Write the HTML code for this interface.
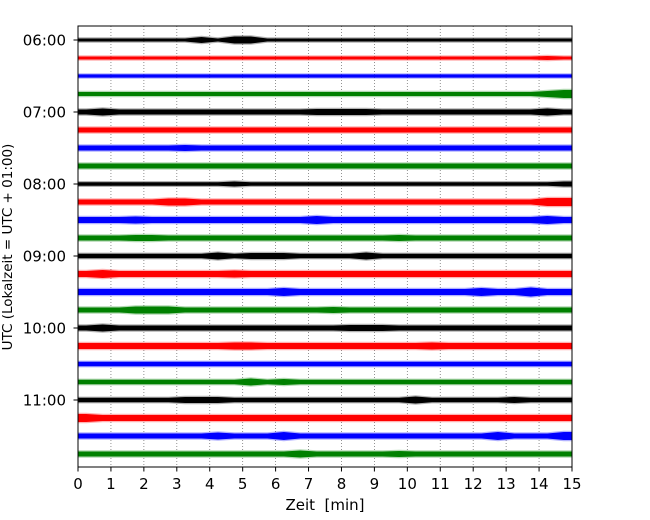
<!DOCTYPE html>
<html><head><meta charset="utf-8"><style>
body{margin:0;background:#fff;}
svg{display:block;font-family:"DejaVu Sans","Liberation Sans",sans-serif;}
</style></head><body>
<svg id="c" width="650" height="520"></svg>
<script>
const ticksX=[0,1,2,3,4,5,6,7,8,9,10,11,12,13,14,15];
const rowLabels=["06:00","07:00","08:00","09:00","10:00","11:00"];
const colors=["#000000","#ff0000","#0000ff","#008000"];
// envelope half-amplitudes (px) per half-minute, per row
const env=[];
function row(base,spikes){const a=new Array(30).fill(base);for(const k in spikes)a[k]=spikes[k];return a;}
env.push(row(1.5,{7:3,9:3.5,10:3.5}));
env.push(row(1.5,{28:2}));
env.push(row(1.6,{}));
env.push(row(2,{28:3,29:4}));
env.push(row(2.5,{1:3.5,14:3,15:3,16:3,17:3,28:3.5}));
env.push(row(2.5,{}));
env.push(row(2.5,{6:3}));
env.push(row(2.5,{}));
env.push(row(1.8,{9:2.5,29:2.5}));
env.push(row(2.5,{5:3.5,6:3.5,28:4,29:4}));
env.push(row(3,{3:3.5,14:4,28:4}));
env.push(row(2.5,{3:3,4:3,19:3}));
env.push(row(2.2,{8:3.5,10:3,11:3,12:3,17:3.5}));
env.push(row(3,{1:4,9:3.5}));
env.push(row(3,{12:4,24:4,27:4.5}));
env.push(row(2.5,{3:3.5,4:3.5,5:3.5,15:3}));
env.push(row(2.5,{1:3.5,16:3,17:3,18:3}));
env.push(row(3,{9:3.5,10:3.5,21:3.5}));
env.push(row(2.2,{}));
env.push(row(2.2,{10:3.5,12:3}));
env.push(row(2.2,{6:3,7:3,8:3,20:3.5,26:3}));
env.push(row(3,{0:4}));
env.push(row(2.5,{8:3.5,12:4,25:4,29:4}));
env.push(row(2.5,{13:3.5,19:3}));

const L=78,R=572,T=26,B=467;
const X=m=>L+(m/15)*(R-L);
const Y=i=>40+i*18;
const NS="http://www.w3.org/2000/svg";
const svg=document.getElementById('c');
function el(t,a,p){const e=document.createElementNS(NS,t);for(const k in a)e.setAttribute(k,a[k]);(p||svg).appendChild(e);return e;}

ticksX.forEach(m=>{
  if(m>0&&m<15){const g=el('line',{x1:X(m),x2:X(m),y1:T,y2:B,stroke:'#777','stroke-width':0.8,'stroke-dasharray':'1,2'});
  
  }
  const t=el('line',{x1:X(m),x2:X(m),y1:B,y2:B+4.5,stroke:'#000'});
  
  
  const l=el('text',{x:X(m),y:B+22,'text-anchor':'middle','font-size':15});
  l.textContent=m;
  
  
});
function envPoly(a,y,extra){
  const n=a.length;const top=[],bot=[];
  const pts=[[X(0),a[0]]];
  for(let k=0;k<n;k++)pts.push([X((k+0.5)*15/n),a[k]]);
  pts.push([X(15),a[n-1]]);
  pts.forEach(p=>{top.push(p[0]+','+(y-p[1]-extra));bot.unshift(p[0]+','+(y+p[1]+extra));});
  return top.concat(bot).join(' ');
}
env.forEach((a,i)=>{
  const y=Y(i);
  const f=el('polygon',{points:envPoly(a,y,1.2),fill:colors[i%4],opacity:0.3});
  
  
  const p=el('polygon',{points:envPoly(a,y,0),fill:colors[i%4]});
  
  
  const c=el('line',{x1:L,x2:R,y1:y,y2:y,stroke:colors[i%4],'stroke-width':3});
  
  
});
rowLabels.forEach((s,j)=>{
  const y=Y(j*4);
  const t=el('line',{x1:L-4.5,x2:L,y1:y,y2:y,stroke:'#000'});
  
  
  const l=el('text',{x:L-12,y:y+5.5,'text-anchor':'end','font-size':15});
  l.textContent=s;
  
  
});
const f=el('rect',{x:L,y:T,width:R-L,height:B-T,fill:'none',stroke:'#000','stroke-width':1});


const xt=el('text',{x:(L+R)/2,y:510,'text-anchor':'middle','font-size':15});
xt.textContent='Zeit\u00a0\u00a0[min]';


const yt=el('text',{x:0,y:0,'text-anchor':'middle','font-size':13.5,transform:'translate(12,247) rotate(-90)'});
yt.textContent='UTC (Lokalzeit = UTC + 01:00)';


</script>
</body></html>
